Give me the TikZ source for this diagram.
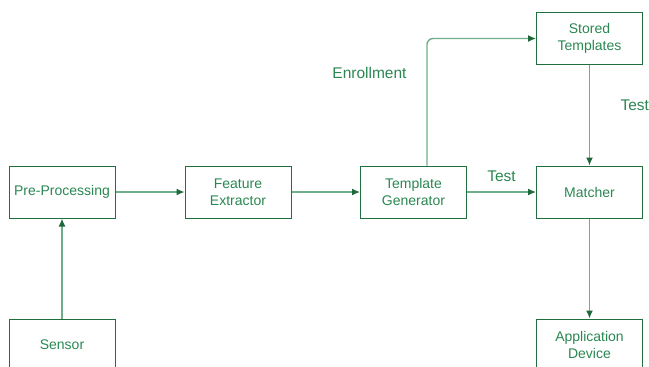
\documentclass[tikz,border=0pt]{standalone}
\usepackage{fontspec}
\setmainfont{Liberation Sans}
\usetikzlibrary{arrows.meta}

\definecolor{boxgreen}{RGB}{30,112,62}
\definecolor{txtgreen}{RGB}{42,135,82}
\definecolor{linegreen}{RGB}{110,175,138}
\definecolor{tipgreen}{RGB}{30,105,60}

\tikzset{
  block/.style={draw=boxgreen, line width=1pt, minimum width=106pt, minimum height=52pt,
    align=center, text=txtgreen, font=\fontsize{14}{17}\selectfont, inner sep=2pt},
  flow/.style={draw=linegreen, line width=1.4pt,
    -{Latex[length=8pt,width=7pt,color=tipgreen]}},
  lbl/.style={text=txtgreen, font=\fontsize{15.5}{18}\selectfont}
}

\begin{document}
\begin{tikzpicture}[x=1pt,y=-1pt]
  \useasboundingbox (0,0) rectangle (649,367);

  \node[block] (prep) at (62,192) {Pre-Processing};
  \node[block] (feat) at (238,192) {Feature\\Extractor};
  \node[block] (tgen) at (413.5,192) {Template\\Generator};
  \node[block] (match) at (589.5,192) {Matcher};
  \node[block] (stored) at (589.5,38.5) {Stored\\Templates};
  \node[block] (sensor) at (62,345) {Sensor};
  \node[block] (appdev) at (589.5,345) {Application\\Device};

  \draw[flow] (sensor) -- (prep);
  \draw[flow] (prep) -- (feat);
  \draw[flow] (feat) -- (tgen);
  \draw[flow] (tgen) -- node[lbl, above=6pt] {Test} (match);
  \draw[flow, rounded corners=6pt] ([xshift=13.5pt]tgen.north) |- (stored.west);
  \draw[flow] (stored) -- node[lbl, right=27pt, yshift=10pt] {Test} (match);
  \draw[flow] (match) -- (appdev);

  \node[lbl] (enroll) at (369.5,73) {Enrollment};
\end{tikzpicture}
\end{document}
